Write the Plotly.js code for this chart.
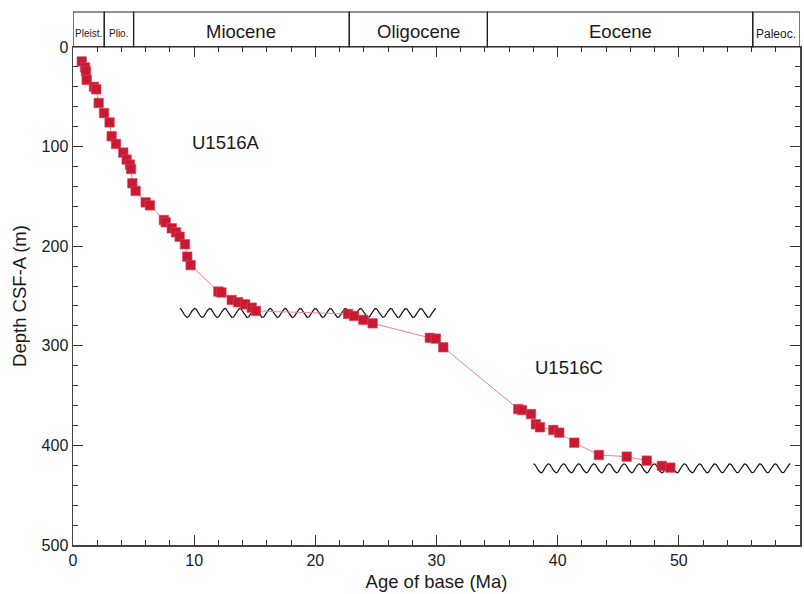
<!DOCTYPE html>
<html>
<head>
<meta charset="utf-8">
<script src="https://cdn.plot.ly/plotly-3.0.1.min.js"></script>
<style>html,body{margin:0;padding:0;background:#fff;}#chart{width:804px;height:594px;}</style>
</head>
<body>
<div id="chart"></div>
<script>
// Site U1516A age-depth tie points (age Ma, depth m CSF-A)
var ageA = [0.72, 0.99, 1.07, 1.13, 1.73, 1.92, 2.12, 2.56, 3.02, 3.19, 3.55, 4.15, 4.43, 4.70, 4.79, 4.90, 5.17, 6.00, 6.35, 7.50, 7.65, 8.15, 8.50, 8.80, 9.24, 9.43, 9.71, 12.00, 12.25, 13.10, 13.64, 14.20, 14.75, 15.10];
var depthA = [14.5, 20.5, 24.5, 33.0, 40.0, 42.5, 56.2, 66.3, 75.7, 89.6, 97.3, 106.0, 113.0, 118.0, 122.5, 136.8, 144.5, 156.0, 159.0, 173.7, 176.0, 182.0, 186.0, 190.5, 198.0, 210.5, 219.0, 245.5, 246.5, 254.0, 256.3, 258.3, 261.7, 265.0];
// Site U1516C
var ageC = [22.70, 23.20, 23.96, 24.73, 29.45, 29.95, 30.56, 36.75, 37.05, 37.80, 38.20, 38.54, 39.64, 40.13, 41.37, 43.40, 45.70, 47.35, 48.60, 49.30];
var depthC = [268.0, 270.0, 274.0, 277.4, 292.0, 292.8, 301.5, 363.5, 364.5, 368.5, 378.8, 381.8, 384.5, 387.2, 397.3, 409.6, 411.3, 415.3, 420.6, 422.3];
// Epoch boundaries (Ma) and names
var epochBounds = [0, 2.58, 5.0, 22.8, 34.2, 56.1, 60];
var epochNames = ["Pleist.", "Plio.", "Miocene", "Oligocene", "Eocene", "Paleoc."];
var epochFontSizes = [10, 10, 18.5, 18.5, 18.5, 12];
// Unconformities: [age start, age end, depth]
var unconf1 = [8.8, 29.95, 267];
var unconf2 = [38.0, 59.2, 423];
var siteLabels = ["U1516A", "U1516C"];
var siteLabelAge = [12.6, 40.9];
var siteLabelDepth = [96, 322];
var xTicks = [0, 10, 20, 30, 40, 50, 60];
var yTicks = [0, 100, 200, 300, 400, 500];

// decorative wavy line (unconformity symbol)
function wavy(u, periods, amp) {
  var xs = [], ys = [], n = periods * 60;
  for (var i = 0; i <= n; i++) {
    var t = i / n;
    xs.push(u[0] + (u[1] - u[0]) * t);
    ys.push(u[2] - amp * Math.cos(2 * Math.PI * periods * t));
  }
  return {x: xs, y: ys};
}
var w1 = wavy(unconf1, 17, 4.5);
var w2 = wavy(unconf2, 17, 4.5);

var red = '#C81B33';
var traces = [
  {x: w1.x, y: w1.y, mode: 'lines', line: {color: '#111', width: 1.2}, hoverinfo: 'skip', showlegend: false},
  {x: w2.x, y: w2.y, mode: 'lines', line: {color: '#111', width: 1.2}, hoverinfo: 'skip', showlegend: false},
  {x: ageA.concat(ageC), y: depthA.concat(depthC), mode: 'lines+markers',
   line: {color: '#E88593', width: 1},
   marker: {symbol: 'square', size: 9.5, color: red, line: {color: '#D9485C', width: 0.6}},
   showlegend: false}
];

var font = 'Liberation Sans, Arial, Helvetica, sans-serif';
var barTop = 1 + 35 / 498;
var shapes = [];
var annotations = [];
for (var i = 0; i < epochNames.length; i++) {
  shapes.push({type: 'rect', xref: 'x', yref: 'paper', x0: epochBounds[i], x1: epochBounds[i + 1], y0: 1, y1: barTop,
    line: {color: '#222', width: 1.2}, fillcolor: 'rgba(0,0,0,0)'});
  var small = epochFontSizes[i] < 14;
  annotations.push({xref: 'x', yref: 'paper', x: (epochBounds[i] + epochBounds[i + 1]) / 2,
    y: small ? 1 + 13 / 498 : 1 + 16 / 498, yanchor: 'middle', showarrow: false,
    text: epochNames[i], font: {family: font, size: epochFontSizes[i], color: '#1a1a1a'}});
}
for (var j = 0; j < siteLabels.length; j++) {
  annotations.push({xref: 'x', yref: 'y', x: siteLabelAge[j], y: siteLabelDepth[j], showarrow: false,
    text: siteLabels[j], font: {family: font, size: 18.5, color: '#1a1a1a'}});
}

var layout = {
  width: 804, height: 594,
  margin: {l: 73, r: 4, t: 47, b: 49, pad: 0},
  paper_bgcolor: '#fff', plot_bgcolor: '#fff',
  font: {family: font, color: '#1a1a1a'},
  showlegend: false,
  xaxis: {range: [0, 60], tickvals: xTicks, ticktext: xTicks.map(String),
    ticks: 'inside', ticklen: 10, tickwidth: 1, tickcolor: '#333',
    minor: {dtick: 2, ticks: 'inside', ticklen: 5, tickwidth: 1, tickcolor: '#333', showgrid: false},
    showline: true, linecolor: '#444', linewidth: 1.5, mirror: 'ticks',
    showgrid: false, zeroline: false, tickfont: {family: font, size: 16, color: '#1a1a1a'},
    title: {text: 'Age of base (Ma)', font: {family: font, size: 18.5, color: '#1a1a1a'}, standoff: 7}},
  yaxis: {range: [500, 0], tickvals: yTicks, ticktext: yTicks.map(String),
    ticks: 'inside', ticklen: 10, tickwidth: 1, tickcolor: '#333',
    minor: {dtick: 20, ticks: 'inside', ticklen: 5, tickwidth: 1, tickcolor: '#333', showgrid: false},
    showline: true, linecolor: '#444', linewidth: 1.5, mirror: 'ticks',
    showgrid: false, zeroline: false, tickfont: {family: font, size: 16, color: '#1a1a1a'},
    title: {text: 'Depth CSF-A (m)', font: {family: font, size: 18.5, color: '#1a1a1a'}, standoff: 10}},
  shapes: shapes,
  annotations: annotations
};
Plotly.newPlot('chart', traces, layout, {displayModeBar: false, staticPlot: true});
</script>
</body>
</html>
